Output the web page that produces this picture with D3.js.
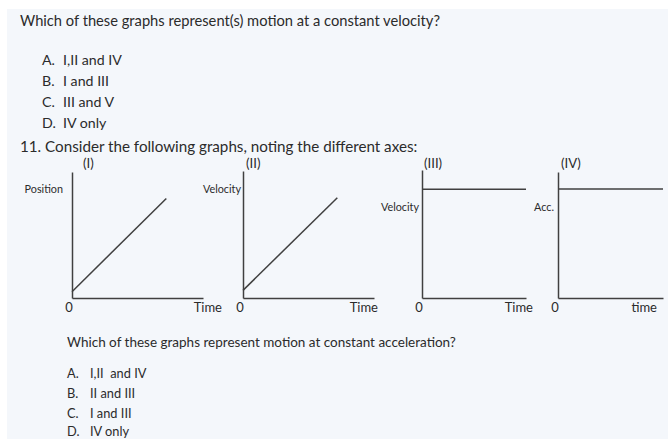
<!DOCTYPE html>
<html>
<head>
<meta charset="utf-8">
<script src="https://cdn.jsdelivr.net/npm/d3@7/dist/d3.min.js"></script>
<style>
  html, body { margin: 0; padding: 0; background: #ffffff; }
  svg { display: block; }
  text { font-family: Lato, "Open Sans", sans-serif; fill: #2b2b2b; white-space: pre; }
</style>
</head>
<body>
<svg id="page" width="668" height="439"></svg>
<script>
// Question text
const question1 = "Which of these graphs represent(s) motion at a constant velocity?";
const letters = ["A.", "B.", "C.", "D."];
const choices1 = ["I,II and IV", "I and III", "III and V", "IV only"];
const item11 = "11. Consider the following graphs, noting the different axes:";
const question2 = "Which of these graphs represent motion at constant acceleration?";
const choices2 = ["I,II  and IV", "II and III", "I and III", "IV only"];

// Graph captions and axis titles
const panelNames = ["(I)", "(II)", "(III)", "(IV)"];
const yTitles = ["Position", "Velocity", "Velocity", "Acc."];
const xTitles = ["Time", "Time", "Time", "time"];
const originLabel = "0";

// Plotted lines, [time, value] on a 0–10 scale per graph
const lineI = [[0, 0.5], [7.2, 7.9]];
const lineII = [[0, 0.6], [7.2, 7.9]];
const lineIII = [[0, 8.5], [10, 8.5]];
const lineIV = [[0, 8.65], [10, 8.65]];
const lines = [lineI, lineII, lineIII, lineIV];

const svg = d3.select("#page");

// sheet background
svg.append("rect").attr("x", 7).attr("y", 9).attr("width", 661).attr("height", 430)
  .attr("fill", "#f4f7fb");

// ---- upper question ----
svg.append("text").attr("x", 20).attr("y", 26).attr("font-size", 14.7).text(question1);
const yChoices1 = [65, 86, 107, 128];
letters.forEach((l, i) => {
  svg.append("text").attr("x", 42).attr("y", yChoices1[i]).attr("font-size", 14.2).text(l);
  svg.append("text").attr("x", 63).attr("y", yChoices1[i]).attr("font-size", 14.2).text(choices1[i]);
});
svg.append("text").attr("x", 20).attr("y", 152).attr("font-size", 15.2).text(item11);

// ---- graphs ----
const frames = [
  { x0: 72,  x1: 203, y0: 172, y1: 298, capX: 83,  yt: { x: 63,  y: 193 } },
  { x0: 243, x1: 374, y0: 171, y1: 298, capX: 246, yt: { x: 241, y: 193 } },
  { x0: 422, x1: 526, y0: 170, y1: 298, capX: 424, yt: { x: 419, y: 211 } },
  { x0: 558, x1: 663, y0: 172, y1: 298, capX: 561, yt: { x: 554, y: 211 } }
];
const xTitleEnd = [222, 378, 533, 657];

frames.forEach((f, i) => {
  const x = d3.scaleLinear().domain([0, 10]).range([f.x0, f.x1]);
  const y = d3.scaleLinear().domain([0, 10]).range([f.y1, f.y0]);
  const g = svg.append("g");

  // axes as bare lines: no ticks
  const xAxis = d3.axisBottom(x).tickValues([]).tickSizeOuter(0);
  const yAxis = d3.axisLeft(y).tickValues([]).tickSizeOuter(0);
  g.append("g").attr("transform", `translate(0,${f.y1})`).call(xAxis);
  g.append("g").attr("transform", `translate(${f.x0},0)`).call(yAxis);
  g.selectAll(".domain").attr("stroke", "#404040").attr("stroke-width", 1.5);

  g.append("path").datum(lines[i])
    .attr("fill", "none").attr("stroke", "#404040").attr("stroke-width", 1.5)
    .attr("d", d3.line().x(d => x(d[0])).y(d => y(d[1])));

  g.append("text").attr("x", f.capX).attr("y", 168).attr("font-size", 13.2).text(panelNames[i]);
  g.append("text").attr("x", f.yt.x).attr("y", f.yt.y).attr("text-anchor", "end")
    .attr("font-size", 10.8).text(yTitles[i]);
  g.append("text").attr("x", f.x0 - 3).attr("y", 312).attr("text-anchor", "middle")
    .attr("font-size", 13).text(originLabel);
  g.append("text").attr("x", xTitleEnd[i]).attr("y", 312).attr("text-anchor", "end")
    .attr("font-size", 13).text(xTitles[i]);
});

// ---- lower question ----
svg.append("text").attr("x", 67).attr("y", 347).attr("font-size", 13.5).text(question2);
const yChoices2 = [378, 398, 418, 436];
letters.forEach((l, i) => {
  svg.append("text").attr("x", 67).attr("y", yChoices2[i]).attr("font-size", 12.8).text(l);
  svg.append("text").attr("x", 90).attr("y", yChoices2[i]).attr("font-size", 12.8).text(choices2[i]);
});
</script>
</body>
</html>
